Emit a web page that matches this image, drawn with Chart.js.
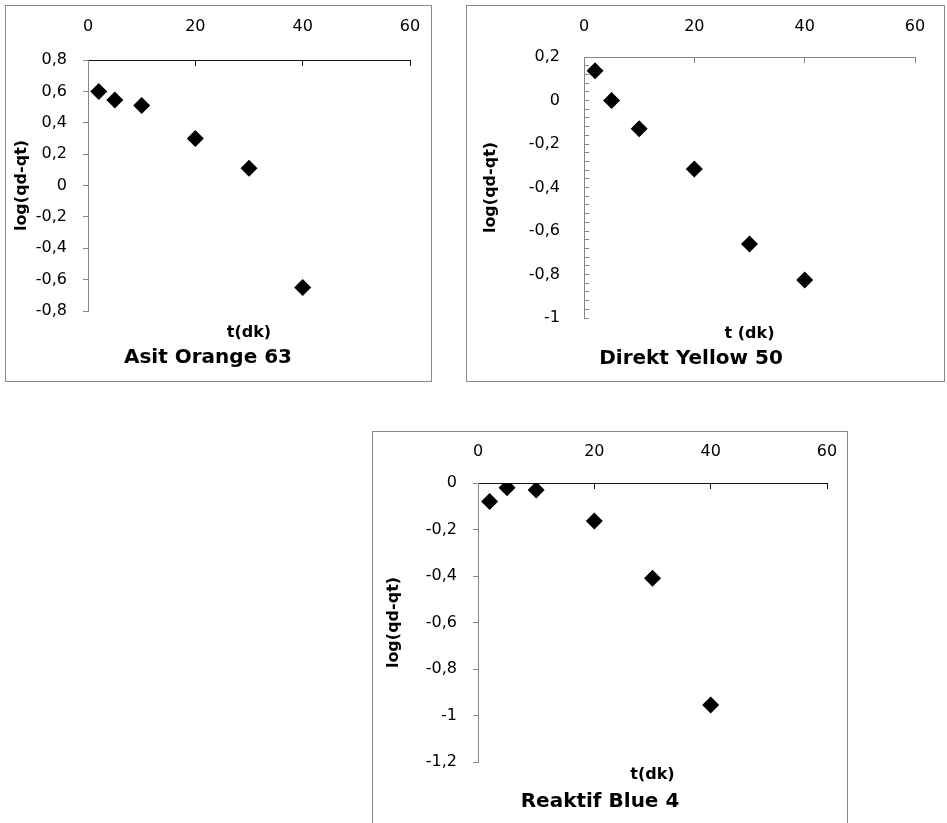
<!DOCTYPE html>
<html>
<head>
<meta charset="utf-8">
<script src="https://cdn.jsdelivr.net/npm/chart.js@4/dist/chart.umd.min.js"></script>
<style>
  html, body { margin: 0; padding: 0; background: #fff; }
  body { width: 947px; height: 823px; position: relative; overflow: hidden; }
  .box { position: absolute; box-sizing: border-box; border: 1px solid #8a8a8a; background: #fff; }
  .box canvas { display: block; }
</style>
</head>
<body>
<div class="box" id="box1" style="left:5px; top:5px; width:427px; height:377px;"><canvas id="c1"></canvas></div>
<div class="box" id="box2" style="left:466px; top:5px; width:479px; height:377px;"><canvas id="c2"></canvas></div>
<div class="box" id="box3" style="left:372px; top:431px; width:476px; height:400px;"><canvas id="c3"></canvas></div>

<script>
// Veriler
const tValues = [2, 5, 10, 20, 30, 40];
const asitOrange = [0.60, 0.545, 0.51, 0.30, 0.11, -0.65];
const direktYellow = [0.137, 0.0, -0.13, -0.315, -0.66, -0.825];
const reaktifBlue = [-0.08, -0.02, -0.03, -0.163, -0.41, -0.955];

// Eksen etiketleri
const xTicks = [0, 20, 40, 60];
const yTicksOrange = [0.8, 0.6, 0.4, 0.2, 0, -0.2, -0.4, -0.6, -0.8];
const yTicksYellow = [0.2, 0, -0.2, -0.4, -0.6, -0.8, -1];
const yTicksBlue = [0, -0.2, -0.4, -0.6, -0.8, -1, -1.2];

const FONT = '"DejaVu Sans", "Liberation Sans", sans-serif';
const GRAY = '#868686';
const TICK_SIZE = 16;
const AXIS_TITLE_SIZE = 16;
const TITLE_SIZE = 20;

const fmt = (v) => {
  const r = Math.round(v * 10) / 10;
  return r === 0 ? '0' : String(r).replace('.', ',');
};

// ara çentikler (sadece Direkt Yellow grafiğinde)
function withMinor(major, step) {
  const lo = Math.min(...major), hi = Math.max(...major);
  const n = Math.round((hi - lo) / step);
  const out = [];
  for (let i = 0; i <= n; i++) out.push(Math.round((hi - i * step) * 1000) / 1000);
  return out;
}

function makeChart(id, cfg) {
  const canvas = document.getElementById(id);
  const box = canvas.parentElement;
  const W = box.clientWidth, H = box.clientHeight;
  canvas.width = W; canvas.height = H;
  canvas.style.width = W + 'px'; canvas.style.height = H + 'px';

  const L0 = TICK_SIZE * 1.2;
  const L1 = AXIS_TITLE_SIZE * 1.2;
  const L2 = TITLE_SIZE * 1.2;
  const subPadTop = cfg.subOffset - L1 / 2;
  const titlePadTop = cfg.titleOffset - cfg.subOffset - L1 / 2 - L2 / 2;
  const padBottom = H - cfg.area.bottom - (subPadTop + L1) - (titlePadTop + L2);
  const xTickLen = -6;

  const yTickVals = cfg.minorStep ? withMinor(cfg.yTicks, cfg.minorStep) : cfg.yTicks;
  const isMajor = (v) => cfg.yTicks.some((m) => Math.abs(m - v) < 1e-6);

  return new Chart(canvas, {
    type: 'scatter',
    data: {
      datasets: [{
        data: tValues.map((t, i) => ({ x: t, y: cfg.values[i] })),
        pointStyle: 'rectRot',
        pointRadius: 8.5,
        pointHoverRadius: 8.5,
        backgroundColor: '#000',
        borderColor: '#000',
        borderWidth: 0,
      }],
    },
    options: {
      responsive: false,
      animation: false,
      devicePixelRatio: 1,
      layout: { padding: { left: 0, top: 0, right: W - cfg.area.right, bottom: padBottom } },
      plugins: {
        legend: { display: false },
        tooltip: { enabled: false },
        subtitle: {
          display: true,
          position: 'bottom',
          fullSize: false,
          text: cfg.xTitle,
          color: '#000',
          font: { family: FONT, size: AXIS_TITLE_SIZE, weight: 'bold', lineHeight: 1.2 },
          padding: { top: subPadTop, bottom: 0 },
        },
        title: {
          display: true,
          position: 'bottom',
          text: cfg.title,
          color: '#000',
          font: { family: FONT, size: TITLE_SIZE, weight: 'bold', lineHeight: 1.2 },
          padding: { top: titlePadTop, bottom: 0 },
        },
      },
      scales: {
        x: {
          type: 'linear',
          position: 'top',
          min: 0,
          max: 60,
          afterBuildTicks: (s) => { s.ticks = xTicks.map((v) => ({ value: v })); },
          afterFit: (s) => {
            s.height = cfg.area.top;
            s.paddingLeft = 0;
            s.paddingRight = 0;
          },
          ticks: {
            color: '#000',
            font: { family: FONT, size: TICK_SIZE, lineHeight: 1.2 },
            padding: cfg.xLabelOffset - L0 / 2 - xTickLen,
            maxRotation: 0,
          },
          grid: { drawOnChartArea: false, tickLength: xTickLen, color: cfg.xColor, tickWidth: 1 },
          border: { color: cfg.xColor, width: 1 },
        },
        y: {
          type: 'linear',
          position: 'left',
          min: Math.min(...cfg.yTicks),
          max: Math.max(...cfg.yTicks),
          afterBuildTicks: (s) => { s.ticks = yTickVals.map((v) => ({ value: v })); },
          afterFit: (s) => {
            s.width = cfg.area.left;
            s.paddingTop = 0;
            s.paddingBottom = 0;
          },
          ticks: {
            autoSkip: false,
            color: '#000',
            font: { family: FONT, size: TICK_SIZE, lineHeight: 1.2 },
            padding: cfg.yTickPad,
            callback: (v) => (isMajor(v) ? fmt(v) : ''),
          },
          grid: { drawOnChartArea: false, tickLength: cfg.yTickLen, color: GRAY },
          border: { color: GRAY, width: 1 },
          title: {
            display: true,
            text: 'log(qd-qt)',
            color: '#000',
            font: { family: FONT, size: AXIS_TITLE_SIZE, weight: 'bold', lineHeight: 1.2 },
            padding: { top: cfg.yTitleX - L1 / 2, bottom: 0 },
          },
        },
      },
    },
  });
}

document.addEventListener('DOMContentLoaded', () => {
  makeChart('c1', {
    values: asitOrange,
    yTicks: yTicksOrange,
    title: 'Asit Orange 63',
    xTitle: 't(dk)',
    area: { left: 82, top: 54, right: 404, bottom: 305 },
    subOffset: 22, titleOffset: 47,
    xLabelOffset: 33, yTickPad: 16, yTickLen: 5, yTitleX: 16,
    xColor: '#111',
  });
  makeChart('c2', {
    values: direktYellow,
    yTicks: yTicksYellow,
    minorStep: 0.04,
    title: 'Direkt Yellow 50',
    xTitle: 't (dk)',
    area: { left: 117, top: 51, right: 448, bottom: 312 },
    subOffset: 16, titleOffset: 41,
    xLabelOffset: 30, yTickPad: 29, yTickLen: -5, yTitleX: 24,
    xColor: GRAY,
  });
  makeChart('c3', {
    values: reaktifBlue,
    yTicks: yTicksBlue,
    title: 'Reaktif Blue 4',
    xTitle: 't(dk)',
    area: { left: 105, top: 51, right: 454, bottom: 330 },
    subOffset: 13, titleOffset: 40,
    xLabelOffset: 31, yTickPad: 16, yTickLen: 5, yTitleX: 21,
    xColor: '#111',
  });
});
</script>
</body>
</html>
